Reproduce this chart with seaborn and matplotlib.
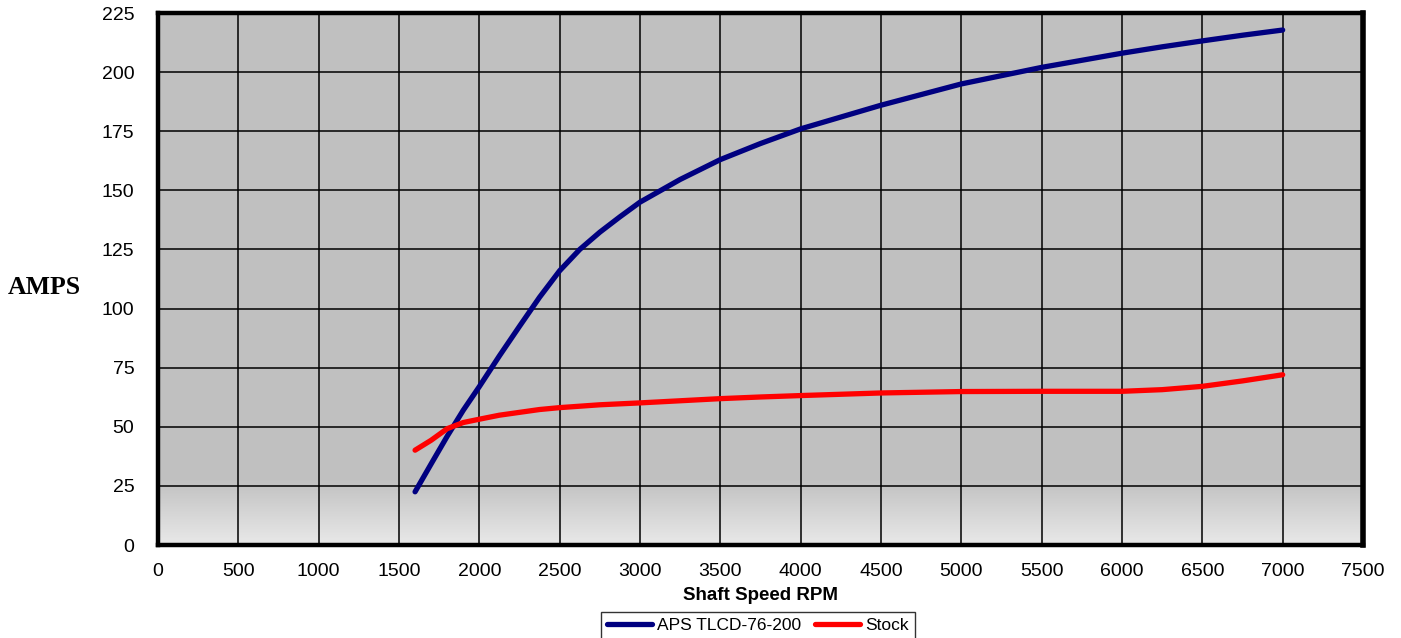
import numpy as np
import pandas as pd
import matplotlib
matplotlib.use("Agg")
import matplotlib.pyplot as plt
from matplotlib.colors import LinearSegmentedColormap
import seaborn as sns

# ---- data ----
rpm = [1600, 1700, 1800, 1900, 2000, 2125, 2250, 2375, 2500, 2625, 2750, 2875,
       3000, 3250, 3500, 3750, 4000, 4500, 5000, 5500, 6000, 6250, 6500, 6750, 7000]
aps_amps = [22.5, 34.3, 46.0, 57.0, 67.0, 80.0, 92.5, 104.8, 116.0, 125.0, 132.3, 138.8,
            145.0, 154.6, 163.0, 169.8, 176.0, 186.0, 195.0, 202.0, 208.0, 210.7, 213.2, 215.6, 217.8]
stock_amps = [40.1, 44.3, 49.2, 51.8, 53.2, 54.9, 56.1, 57.3, 58.1, 58.7, 59.3, 59.7,
              60.1, 61.0, 61.9, 62.6, 63.2, 64.3, 64.9, 65.0, 65.0, 65.7, 67.1, 69.4, 72.0]
series_names = ["APS TLCD-76-200", "Stock"]
series_colors = ["#000080", "#FF0000"]
x_ticks = list(range(0, 7501, 500))
y_ticks = list(range(0, 226, 25))

df = pd.DataFrame({
    "rpm": rpm * 2,
    "amps": aps_amps + stock_amps,
    "series": [series_names[0]] * len(rpm) + [series_names[1]] * len(rpm),
})

sns.set_style("white")
plt.rcParams["font.family"] = ["Liberation Sans", "DejaVu Sans"]
plt.rcParams["text.color"] = "black"
plt.rcParams["axes.labelcolor"] = "black"

fig = plt.figure(figsize=(14.01, 6.38), dpi=100)
ax = fig.add_axes([158 / 1401, 1 - 545 / 638, 1205 / 1401, 532 / 638])
ax.set_facecolor("#C0C0C0")

# bottom gradient of the plot area
cmap = LinearSegmentedColormap.from_list("g", ["#E9E9E9", "#C0C0C0"])
grad = np.linspace(0, 1, 256).reshape(-1, 1)
ax.imshow(grad, extent=[0, 7500, 0, 28], origin="lower", aspect="auto",
          cmap=cmap, zorder=0)

sns.lineplot(data=df, x="rpm", y="amps", hue="series", hue_order=series_names,
             palette=dict(zip(series_names, series_colors)), linewidth=3.8,
             ax=ax, zorder=3, solid_capstyle="round", solid_joinstyle="round")

ax.set_xlim(0, 7500)
ax.set_ylim(0, 225)
ax.set_xticks(x_ticks)
ax.set_yticks(y_ticks)
ax.grid(True, color="black", linewidth=1.1, zorder=1)
ax.set_axisbelow(True)

for side in ["left", "bottom", "top"]:
    ax.spines[side].set_linewidth(3.2)
    ax.spines[side].set_color("black")
ax.spines["right"].set_linewidth(4)
ax.spines["right"].set_color("black")

ax.tick_params(axis="both", direction="out", length=4, width=2, color="black",
               labelsize=14, labelcolor="black")
ax.tick_params(axis="y", pad=13)
ax.tick_params(axis="x", pad=9)

ax.set_xlabel("Shaft Speed RPM", fontsize=13.5, fontweight="bold", labelpad=5,
              color="black")
ax.set_ylabel("")
fig.text(8 / 1401, 1 - 287 / 638, "AMPS", fontsize=18.5, fontweight="bold",
         family=["Liberation Serif", "DejaVu Serif"], ha="left", va="center",
         color="black")

handles, labels = ax.get_legend_handles_labels()
ax.get_legend().remove()
leg = fig.legend(handles, labels, loc="upper center",
                 bbox_to_anchor=(758 / 1401, 1 - 612 / 638), ncol=2,
                 frameon=True, fancybox=False, edgecolor="black", fontsize=12.5,
                 handlelength=2.6, handletextpad=0.3, columnspacing=0.8,
                 borderpad=0.35, borderaxespad=0)
leg.get_frame().set_linewidth(1.0)
for t in leg.get_texts():
    t.set_color("black")
for h in leg.get_lines():
    h.set_linewidth(3.8)

fig.savefig("out.png", dpi=100)
